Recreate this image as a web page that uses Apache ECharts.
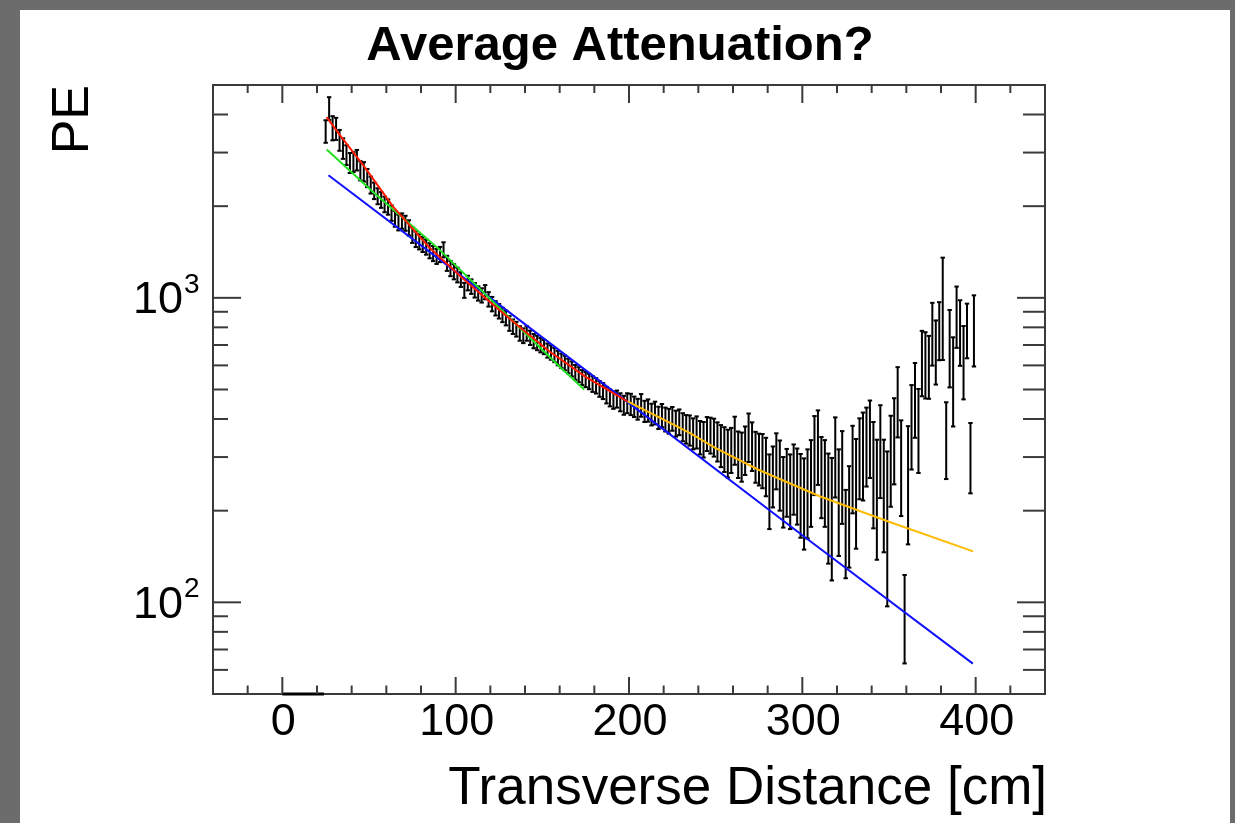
<!DOCTYPE html>
<html><head><meta charset="utf-8">
<script src="https://cdn.jsdelivr.net/npm/echarts@6/dist/echarts.min.js"></script>
<style>
html,body{margin:0;padding:0;width:1235px;height:823px;overflow:hidden;background:#6c6c6c;}
#panel{position:absolute;left:20px;top:10px;width:1210px;height:813px;background:#fff;}
#chart{position:absolute;left:0;top:0;width:1235px;height:823px;}
</style></head><body>
<div id="panel"></div><div id="chart"></div>
<script>
// ---- data ----
const binCenters = [
 25,27,29,31,33,35,37,39,41,43,45,47,49,
 51,53,55,57,59,61,63,65,67,69,71,73,75,77,79,81,83,85,87,89,91,93,95,97,99,
 101,103,105,107,109,111,113,115,117,119,121,123,125,127,129,131,133,135,137,139,141,143,145,147,149,
 151,153,155,157,159,161,163,165,167,169,171,173,175,177,179,181,183,185,187,189,191,193,195,197,199,
 201,203,205,207,209,211,213,215,217,219,221,223,225,227,229,231,233,235,237,239,241,243,245,247,249,
 251,253,255,257,259,261,263,265,267,269,271,273,275,277,279,281,283,285,287,289,291,293,295,297,299,
 301,303,305,307,309,311,313,315,317,319,321,323,325,327,329,331,333,335,337,339,341,343,345,347,349,
 351,353,355,357,359,361,363,365,367,369,371,373,375,377,379,381,383,385,387,389,391,393,395,397,399
];
const peValues = [
 3530,4200,3620,3600,3300,3100,2950,2780,2800,2840,2620,2600,2480,
 2350,2250,2160,2100,2030,1990,1900,1820,1770,1790,1760,1700,1610,1560,1530,1500,1470,1430,1400,1370,1390,1440,1300,1250,1220,
 1190,1150,1060,1120,1090,1060,1035,1020,1045,990,955,925,905,880,860,825,805,790,765,752,765,740,722,712,700,
 690,672,662,650,635,622,612,598,585,570,560,548,540,532,522,515,503,495,480,470,462,466,455,445,452,
 448,440,432,445,425,428,415,420,405,412,400,395,402,388,392,378,372,369,360,364,350,345,360,356,351,
 340,330,322,313,320,345,310,305,320,353,330,305,300,297,285,240,265,297,270,238,255,240,262,250,235,
 223,240,259,317,335,269,259,221,208,313,230,273,177,205,288,247,310,318,338,358,283,240,332,244,205,
 308,356,470,294,93,267,395,479,384,627,619,608,781,681,796,990,354,710,560,887,790,636,795,308,807
];
const peErrors = [
 300,360,330,300,260,240,220,210,210,220,190,190,170,
 150,140,130,125,120,115,110,108,105,104,100,98,95,92,88,86,84,82,80,78,80,82,74,72,70,
 66,64,60,62,60,58,56,55,56,54,52,50,50,48,48,46,44,44,42,42,42,40,39,39,38,
 37,36,36,35,35,34,34,33,33,32,32,31,31,31,31,30,30,30,30,30,30,30,31,32,34,
 36,34,34,38,34,36,34,36,34,36,36,37,36,38,38,40,40,42,42,44,44,46,46,48,50,
 50,52,54,56,54,62,54,56,58,64,60,58,58,60,62,66,60,62,70,62,64,66,68,70,72,
 74,78,82,92,92,80,82,87,90,92,88,92,57,75,92,97,92,102,98,102,108,102,112,98,108,
 102,112,122,102,30,112,122,132,118,152,152,142,182,162,172,365,100,202,182,202,192,172,162,80,212
];
// fit curves
const blueFitX = [26.6, 100, 200, 300, 398.4];
const blueFitY = [2528, 1219, 451, 166, 62.9];
const greenFitX = [25.6, 53, 90.6, 125, 159.7, 174.2];
const greenFitY = [3070, 2210, 1440, 930, 596, 500];
const redFitX = [25.5, 35, 46, 64, 85, 104, 123, 140, 154, 175, 199];
const redFitY = [3920, 3320, 2760, 1990, 1460, 1160, 935, 775, 668, 550, 457];
const orangeFitX = [199.2, 235, 250, 275, 300, 310, 350, 398.5];
const orangeFitY = [457, 360, 321, 272, 236, 223, 184, 147];
const underflowX = [0, 24];
const underflowY = [50, 50];
// axes
const xRange = [-40, 440];
const yRange = [50, 5000];
const xMajorTicks = [0, 100, 200, 300, 400];
const xMinorTicks = [-20, 20, 40, 60, 80, 120, 140, 160, 180, 220, 240, 260, 280, 320, 340, 360, 380, 420];
const xTickLabels = ['0', '100', '200', '300', '400'];
const yMajorTicks = [100, 1000];
const yMinorTicks = [60, 70, 80, 90, 200, 300, 400, 500, 600, 700, 800, 900, 2000, 3000, 4000];
const yTickBase = ['10', '10'];
const yTickExp = ['2', '3'];
const titleText = 'Average Attenuation?';
const xTitle = 'Transverse Distance [cm]';
const yTitle = 'PE';

const FONT = '"Liberation Sans", Arial, Helvetica, sans-serif';
const TICK = '#3a3a3a';

const zip = (a, b) => a.map((v, i) => [v, b[i]]);

const chart = echarts.init(document.getElementById('chart'), null, {renderer: 'canvas'});

const hidden = {axisLine: {show: false}, axisTick: {show: false}, axisLabel: {show: false}, splitLine: {show: false}};

function errRender(params, api) {
  const x = api.value(0), v = api.value(1), e = api.value(2);
  const lo = Math.max(v - e, yRange[0]);
  const hi = v + e;
  const pt = api.coord([x, hi]);
  const pb = api.coord([x, lo]);
  const st = {stroke: '#000', lineWidth: 2};
  const cw = 2.2;
  const kids = [
    {type: 'line', shape: {x1: pt[0], y1: pt[1], x2: pb[0], y2: pb[1]}, style: st},
    {type: 'line', shape: {x1: pt[0] - cw, y1: pt[1], x2: pt[0] + cw, y2: pt[1]}, style: st}
  ];
  if (v - e > yRange[0]) kids.push({type: 'line', shape: {x1: pb[0] - cw, y1: pb[1], x2: pb[0] + cw, y2: pb[1]}, style: st});
  return {type: 'group', children: kids};
}

function xTickRender(params, api) {
  const cs = params.coordSys;
  const v = api.value(0), major = api.value(2);
  const px = api.coord([v, yRange[0]])[0];
  const lb = major ? 17 : 8.5, lt = major ? 18 : 8;
  const st = {stroke: TICK, lineWidth: 2};
  return {type: 'group', children: [
    {type: 'line', shape: {x1: px, y1: cs.y + cs.height, x2: px, y2: cs.y + cs.height - lb}, style: st},
    {type: 'line', shape: {x1: px, y1: cs.y, x2: px, y2: cs.y + lt}, style: st}
  ]};
}

function yTickRender(params, api) {
  const cs = params.coordSys;
  const v = api.value(1), major = api.value(2);
  const py = api.coord([xRange[0], v])[1];
  const ll = major ? 28 : 15, lr = major ? 28 : 22;
  const st = {stroke: TICK, lineWidth: 2};
  return {type: 'group', children: [
    {type: 'line', shape: {x1: cs.x, y1: py, x2: cs.x + ll, y2: py}, style: st},
    {type: 'line', shape: {x1: cs.x + cs.width, y1: py, x2: cs.x + cs.width - lr, y2: py}, style: st}
  ]};
}

function xLabelRender(params, api) {
  const cs = params.coordSys;
  const i = params.dataIndex;
  const px = api.coord([api.value(0), yRange[0]])[0];
  return {type: 'text', x: px + 1, y: cs.y + cs.height + 29,
    style: {text: xTickLabels[i], font: '45px ' + FONT, fill: '#000', align: 'center', verticalAlign: 'middle'}};
}

function yLabelRender(params, api) {
  const cs = params.coordSys;
  const i = params.dataIndex;
  const py = api.coord([xRange[0], api.value(1)])[1];
  return {type: 'group', children: [
    {type: 'text', x: cs.x - 30, y: py + 3,
      style: {text: yTickBase[i], font: '45px ' + FONT, fill: '#000', align: 'right', verticalAlign: 'middle'}},
    {type: 'text', x: cs.x - 29, y: py - 13,
      style: {text: yTickExp[i], font: '28px ' + FONT, fill: '#000', align: 'left', verticalAlign: 'middle'}}
  ]};
}

const fitLine = (name, xs, ys, color, z) => ({
  type: 'line', name, data: zip(xs, ys), showSymbol: false, smooth: false, z,
  lineStyle: {color, width: 2}, silent: true, animation: false
});

const option = {
  animation: false,
  backgroundColor: 'transparent',
  grid: {left: 213, top: 85, width: 832, height: 609, show: true, borderColor: '#3a3a3a', borderWidth: 2, backgroundColor: 'transparent'},
  xAxis: Object.assign({type: 'value', min: xRange[0], max: xRange[1]}, hidden),
  yAxis: Object.assign({type: 'log', logBase: 10, min: yRange[0], max: yRange[1]}, hidden),
  graphic: [
    {type: 'text', x: 620, y: 46, style: {text: titleText, font: 'bold 49px ' + FONT, fill: '#000', align: 'center', verticalAlign: 'middle'}},
    {type: 'text', x: 1047, y: 789, style: {text: xTitle, font: '53px ' + FONT, fill: '#000', align: 'right', verticalAlign: 'middle'}},
    {type: 'text', x: 74, y: 85, rotation: Math.PI / 2, style: {text: yTitle, font: '52px ' + FONT, fill: '#000', align: 'right', verticalAlign: 'middle'}}
  ],
  series: [
    {type: 'custom', name: 'data', renderItem: errRender, clip: true, z: 2,
      data: binCenters.map((x, i) => [x, peValues[i], peErrors[i]]), encode: {x: 0, y: 1}},
    {type: 'line', name: 'underflow', data: zip(underflowX, underflowY), showSymbol: false, clip: false, z: 2,
      lineStyle: {color: '#000', width: 3}},
    fitLine('expo', blueFitX, blueFitY, '#1010ff', 3),
    fitLine('fit1', greenFitX, greenFitY, '#22e022', 4),
    fitLine('fit3', orangeFitX, orangeFitY, '#ffbb00', 5),
    fitLine('fit2', redFitX, redFitY, '#ff1a00', 6),
    {type: 'custom', name: 'xticks', renderItem: xTickRender, clip: false, z: 7, silent: true,
      data: xMajorTicks.map(v => [v, yRange[0], 1]).concat(xMinorTicks.map(v => [v, yRange[0], 0])), encode: {x: 0, y: 1}},
    {type: 'custom', name: 'yticks', renderItem: yTickRender, clip: false, z: 7, silent: true,
      data: yMajorTicks.map(v => [xRange[0], v, 1]).concat(yMinorTicks.map(v => [xRange[0], v, 0])), encode: {x: 0, y: 1}},
    {type: 'custom', name: 'xlabels', renderItem: xLabelRender, clip: false, z: 7, silent: true,
      data: xMajorTicks.map(v => [v, yRange[0]]), encode: {x: 0, y: 1}},
    {type: 'custom', name: 'ylabels', renderItem: yLabelRender, clip: false, z: 7, silent: true,
      data: yMajorTicks.map(v => [xRange[0], v]), encode: {x: 0, y: 1}}
  ]
};
chart.setOption(option);
</script>
</body></html>
